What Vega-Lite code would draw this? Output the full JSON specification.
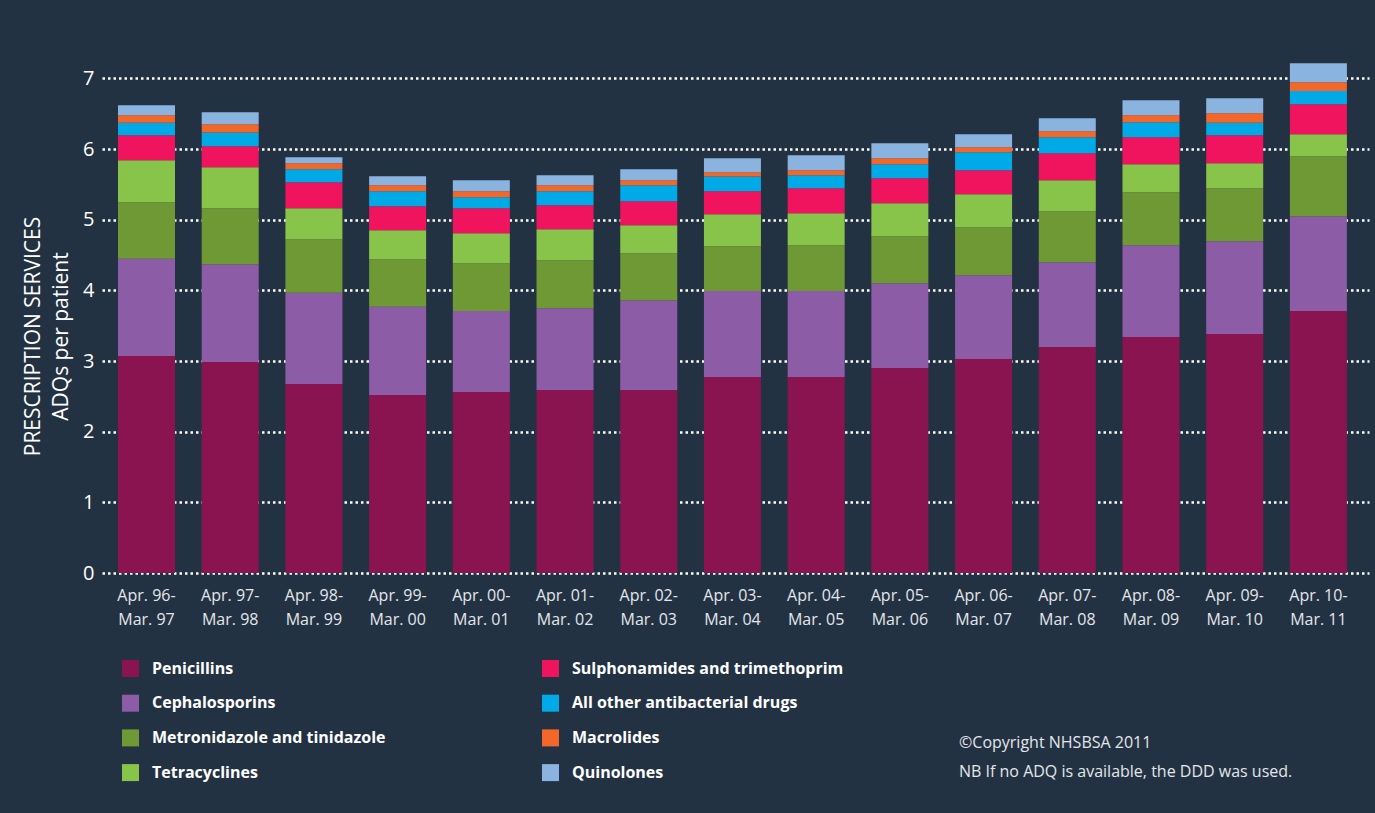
{
  "$schema": "https://vega.github.io/schema/vega-lite/v6.json",
  "autosize": {"type": "none"},
  "width": 1267,
  "height": 530,
  "padding": {"left": 102, "top": 43, "right": 6, "bottom": 240},
  "background": "#233243",
  "datasets": {
    "drugs": [
      {"drug": "pen", "name": "Penicillins", "ord": 1},
      {"drug": "ceph", "name": "Cephalosporins", "ord": 2},
      {"drug": "metro", "name": "Metronidazole and tinidazole", "ord": 3},
      {"drug": "tet", "name": "Tetracyclines", "ord": 4},
      {"drug": "sulph", "name": "Sulphonamides and trimethoprim", "ord": 5},
      {"drug": "other", "name": "All other antibacterial drugs", "ord": 6},
      {"drug": "mac", "name": "Macrolides", "ord": 7},
      {"drug": "quin", "name": "Quinolones", "ord": 8}
    ],
    "adq": [
      {"period": "Apr. 96-Mar. 97", "drug": "pen", "adq": 3.07},
      {"period": "Apr. 96-Mar. 97", "drug": "ceph", "adq": 1.376},
      {"period": "Apr. 96-Mar. 97", "drug": "metro", "adq": 0.801},
      {"period": "Apr. 96-Mar. 97", "drug": "tet", "adq": 0.594},
      {"period": "Apr. 96-Mar. 97", "drug": "sulph", "adq": 0.353},
      {"period": "Apr. 96-Mar. 97", "drug": "other", "adq": 0.179},
      {"period": "Apr. 96-Mar. 97", "drug": "mac", "adq": 0.104},
      {"period": "Apr. 96-Mar. 97", "drug": "quin", "adq": 0.141},
      {"period": "Apr. 97-Mar. 98", "drug": "pen", "adq": 2.985},
      {"period": "Apr. 97-Mar. 98", "drug": "ceph", "adq": 1.385},
      {"period": "Apr. 97-Mar. 98", "drug": "metro", "adq": 0.792},
      {"period": "Apr. 97-Mar. 98", "drug": "tet", "adq": 0.58},
      {"period": "Apr. 97-Mar. 98", "drug": "sulph", "adq": 0.297},
      {"period": "Apr. 97-Mar. 98", "drug": "other", "adq": 0.193},
      {"period": "Apr. 97-Mar. 98", "drug": "mac", "adq": 0.118},
      {"period": "Apr. 97-Mar. 98", "drug": "quin", "adq": 0.169},
      {"period": "Apr. 98-Mar. 99", "drug": "pen", "adq": 2.674},
      {"period": "Apr. 98-Mar. 99", "drug": "ceph", "adq": 1.291},
      {"period": "Apr. 98-Mar. 99", "drug": "metro", "adq": 0.759},
      {"period": "Apr. 98-Mar. 99", "drug": "tet", "adq": 0.438},
      {"period": "Apr. 98-Mar. 99", "drug": "sulph", "adq": 0.368},
      {"period": "Apr. 98-Mar. 99", "drug": "other", "adq": 0.183},
      {"period": "Apr. 98-Mar. 99", "drug": "mac", "adq": 0.085},
      {"period": "Apr. 98-Mar. 99", "drug": "quin", "adq": 0.085},
      {"period": "Apr. 99-Mar. 00", "drug": "pen", "adq": 2.518},
      {"period": "Apr. 99-Mar. 00", "drug": "ceph", "adq": 1.249},
      {"period": "Apr. 99-Mar. 00", "drug": "metro", "adq": 0.674},
      {"period": "Apr. 99-Mar. 00", "drug": "tet", "adq": 0.41},
      {"period": "Apr. 99-Mar. 00", "drug": "sulph", "adq": 0.339},
      {"period": "Apr. 99-Mar. 00", "drug": "other", "adq": 0.212},
      {"period": "Apr. 99-Mar. 00", "drug": "mac", "adq": 0.085},
      {"period": "Apr. 99-Mar. 00", "drug": "quin", "adq": 0.128},
      {"period": "Apr. 00-Mar. 01", "drug": "pen", "adq": 2.561},
      {"period": "Apr. 00-Mar. 01", "drug": "ceph", "adq": 1.145},
      {"period": "Apr. 00-Mar. 01", "drug": "metro", "adq": 0.679},
      {"period": "Apr. 00-Mar. 01", "drug": "tet", "adq": 0.424},
      {"period": "Apr. 00-Mar. 01", "drug": "sulph", "adq": 0.353},
      {"period": "Apr. 00-Mar. 01", "drug": "other", "adq": 0.156},
      {"period": "Apr. 00-Mar. 01", "drug": "mac", "adq": 0.084},
      {"period": "Apr. 00-Mar. 01", "drug": "quin", "adq": 0.156},
      {"period": "Apr. 01-Mar. 02", "drug": "pen", "adq": 2.589},
      {"period": "Apr. 01-Mar. 02", "drug": "ceph", "adq": 1.159},
      {"period": "Apr. 01-Mar. 02", "drug": "metro", "adq": 0.679},
      {"period": "Apr. 01-Mar. 02", "drug": "tet", "adq": 0.438},
      {"period": "Apr. 01-Mar. 02", "drug": "sulph", "adq": 0.339},
      {"period": "Apr. 01-Mar. 02", "drug": "other", "adq": 0.198},
      {"period": "Apr. 01-Mar. 02", "drug": "mac", "adq": 0.085},
      {"period": "Apr. 01-Mar. 02", "drug": "quin", "adq": 0.142},
      {"period": "Apr. 02-Mar. 03", "drug": "pen", "adq": 2.589},
      {"period": "Apr. 02-Mar. 03", "drug": "ceph", "adq": 1.272},
      {"period": "Apr. 02-Mar. 03", "drug": "metro", "adq": 0.665},
      {"period": "Apr. 02-Mar. 03", "drug": "tet", "adq": 0.396},
      {"period": "Apr. 02-Mar. 03", "drug": "sulph", "adq": 0.339},
      {"period": "Apr. 02-Mar. 03", "drug": "other", "adq": 0.226},
      {"period": "Apr. 02-Mar. 03", "drug": "mac", "adq": 0.071},
      {"period": "Apr. 02-Mar. 03", "drug": "quin", "adq": 0.155},
      {"period": "Apr. 03-Mar. 04", "drug": "pen", "adq": 2.773},
      {"period": "Apr. 03-Mar. 04", "drug": "ceph", "adq": 1.216},
      {"period": "Apr. 03-Mar. 04", "drug": "metro", "adq": 0.636},
      {"period": "Apr. 03-Mar. 04", "drug": "tet", "adq": 0.452},
      {"period": "Apr. 03-Mar. 04", "drug": "sulph", "adq": 0.325},
      {"period": "Apr. 03-Mar. 04", "drug": "other", "adq": 0.208},
      {"period": "Apr. 03-Mar. 04", "drug": "mac", "adq": 0.061},
      {"period": "Apr. 03-Mar. 04", "drug": "quin", "adq": 0.198},
      {"period": "Apr. 04-Mar. 05", "drug": "pen", "adq": 2.773},
      {"period": "Apr. 04-Mar. 05", "drug": "ceph", "adq": 1.216},
      {"period": "Apr. 04-Mar. 05", "drug": "metro", "adq": 0.65},
      {"period": "Apr. 04-Mar. 05", "drug": "tet", "adq": 0.452},
      {"period": "Apr. 04-Mar. 05", "drug": "sulph", "adq": 0.354},
      {"period": "Apr. 04-Mar. 05", "drug": "other", "adq": 0.184},
      {"period": "Apr. 04-Mar. 05", "drug": "mac", "adq": 0.07},
      {"period": "Apr. 04-Mar. 05", "drug": "quin", "adq": 0.212},
      {"period": "Apr. 05-Mar. 06", "drug": "pen", "adq": 2.9},
      {"period": "Apr. 05-Mar. 06", "drug": "ceph", "adq": 1.202},
      {"period": "Apr. 05-Mar. 06", "drug": "metro", "adq": 0.664},
      {"period": "Apr. 05-Mar. 06", "drug": "tet", "adq": 0.467},
      {"period": "Apr. 05-Mar. 06", "drug": "sulph", "adq": 0.353},
      {"period": "Apr. 05-Mar. 06", "drug": "other", "adq": 0.198},
      {"period": "Apr. 05-Mar. 06", "drug": "mac", "adq": 0.085},
      {"period": "Apr. 05-Mar. 06", "drug": "quin", "adq": 0.212},
      {"period": "Apr. 06-Mar. 07", "drug": "pen", "adq": 3.027},
      {"period": "Apr. 06-Mar. 07", "drug": "ceph", "adq": 1.188},
      {"period": "Apr. 06-Mar. 07", "drug": "metro", "adq": 0.678},
      {"period": "Apr. 06-Mar. 07", "drug": "tet", "adq": 0.467},
      {"period": "Apr. 06-Mar. 07", "drug": "sulph", "adq": 0.339},
      {"period": "Apr. 06-Mar. 07", "drug": "other", "adq": 0.255},
      {"period": "Apr. 06-Mar. 07", "drug": "mac", "adq": 0.071},
      {"period": "Apr. 06-Mar. 07", "drug": "quin", "adq": 0.183},
      {"period": "Apr. 07-Mar. 08", "drug": "pen", "adq": 3.197},
      {"period": "Apr. 07-Mar. 08", "drug": "ceph", "adq": 1.202},
      {"period": "Apr. 07-Mar. 08", "drug": "metro", "adq": 0.721},
      {"period": "Apr. 07-Mar. 08", "drug": "tet", "adq": 0.438},
      {"period": "Apr. 07-Mar. 08", "drug": "sulph", "adq": 0.382},
      {"period": "Apr. 07-Mar. 08", "drug": "other", "adq": 0.226},
      {"period": "Apr. 07-Mar. 08", "drug": "mac", "adq": 0.085},
      {"period": "Apr. 07-Mar. 08", "drug": "quin", "adq": 0.183},
      {"period": "Apr. 08-Mar. 09", "drug": "pen", "adq": 3.338},
      {"period": "Apr. 08-Mar. 09", "drug": "ceph", "adq": 1.301},
      {"period": "Apr. 08-Mar. 09", "drug": "metro", "adq": 0.749},
      {"period": "Apr. 08-Mar. 09", "drug": "tet", "adq": 0.396},
      {"period": "Apr. 08-Mar. 09", "drug": "sulph", "adq": 0.382},
      {"period": "Apr. 08-Mar. 09", "drug": "other", "adq": 0.212},
      {"period": "Apr. 08-Mar. 09", "drug": "mac", "adq": 0.099},
      {"period": "Apr. 08-Mar. 09", "drug": "quin", "adq": 0.212},
      {"period": "Apr. 09-Mar. 10", "drug": "pen", "adq": 3.381},
      {"period": "Apr. 09-Mar. 10", "drug": "ceph", "adq": 1.315},
      {"period": "Apr. 09-Mar. 10", "drug": "metro", "adq": 0.749},
      {"period": "Apr. 09-Mar. 10", "drug": "tet", "adq": 0.353},
      {"period": "Apr. 09-Mar. 10", "drug": "sulph", "adq": 0.396},
      {"period": "Apr. 09-Mar. 10", "drug": "other", "adq": 0.179},
      {"period": "Apr. 09-Mar. 10", "drug": "mac", "adq": 0.132},
      {"period": "Apr. 09-Mar. 10", "drug": "quin", "adq": 0.212},
      {"period": "Apr. 10-Mar. 11", "drug": "pen", "adq": 3.706},
      {"period": "Apr. 10-Mar. 11", "drug": "ceph", "adq": 1.343},
      {"period": "Apr. 10-Mar. 11", "drug": "metro", "adq": 0.848},
      {"period": "Apr. 10-Mar. 11", "drug": "tet", "adq": 0.311},
      {"period": "Apr. 10-Mar. 11", "drug": "sulph", "adq": 0.424},
      {"period": "Apr. 10-Mar. 11", "drug": "other", "adq": 0.189},
      {"period": "Apr. 10-Mar. 11", "drug": "mac", "adq": 0.122},
      {"period": "Apr. 10-Mar. 11", "drug": "quin", "adq": 0.269}
    ]
  },
  "data": {"name": "adq"},
  "transform": [
    {"lookup": "drug", "from": {"data": {"name": "drugs"}, "key": "drug", "fields": ["name", "ord"]}}
  ],
  "title": {
    "text": ["©Copyright NHSBSA 2011", "NB If no ADQ is available, the DDD was used."],
    "orient": "bottom",
    "anchor": "start",
    "frame": "group",
    "align": "left",
    "dx": 857,
    "offset": -47,
    "font": "Open Sans",
    "fontSize": 16,
    "fontWeight": "normal",
    "color": "#e3e6ea",
    "lineHeight": 29
  },
  "mark": {"type": "bar"},
  "encoding": {
    "x": {
      "field": "period",
      "type": "nominal",
      "sort": null,
      "scale": {"paddingInner": 0.319, "paddingOuter": 0.2275, "align": 0.42},
      "axis": {
        "title": null,
        "labelAngle": 0,
        "labelExpr": "[slice(datum.label, 0, 8), slice(datum.label, 8)]",
        "labelFont": "Open Sans",
        "labelFontSize": 16,
        "labelColor": "#e3e6ea",
        "labelLineHeight": 24,
        "labelPadding": 14,
        "ticks": false,
        "domain": false,
        "grid": false
      }
    },
    "y": {
      "field": "adq",
      "type": "quantitative",
      "stack": "zero",
      "scale": {"domain": [0, 7.5], "nice": false},
      "axis": {
        "title": ["PRESCRIPTION SERVICES", "ADQs per patient"],
        "values": [0, 1, 2, 3, 4, 5, 6, 7],
        "labelFont": "Open Sans",
        "labelFontSize": 20,
        "labelColor": "#ffffff",
        "labelPadding": 8,
        "ticks": false,
        "domain": false,
        "grid": true,
        "gridColor": "#ffffff",
        "gridDash": [2.5, 3],
        "gridWidth": 2.5,
        "titleFont": "Open Sans",
        "titleFontSize": 21,
        "titleFontWeight": "normal",
        "titleColor": "#ffffff",
        "titleLineHeight": 28,
        "titlePadding": 11,
        "titleY": 293
      }
    },
    "color": {
      "field": "name",
      "type": "nominal",
      "scale": {
        "domain": ["Penicillins", "Cephalosporins", "Metronidazole and tinidazole", "Tetracyclines", "Sulphonamides and trimethoprim", "All other antibacterial drugs", "Macrolides", "Quinolones"],
        "range": ["#8a1450", "#8c5ca6", "#6f9934", "#89c44a", "#f0145f", "#00aae6", "#f3672a", "#8ab3e0"]
      },
      "legend": {
        "orient": "none",
        "legendX": 20,
        "legendY": 617,
        "title": null,
        "columns": 2,
        "columnPadding": 156,
        "rowPadding": 17.7,
        "padding": 0,
        "symbolType": "square",
        "symbolSize": 289,
        "symbolStrokeWidth": 0,
        "symbolOpacity": 1,
        "labelFont": "Open Sans",
        "labelFontSize": 16,
        "labelFontWeight": "bold",
        "labelColor": "#ffffff",
        "labelOffset": 13,
        "labelLimit": 400
      }
    },
    "order": {"field": "ord", "type": "quantitative"}
  },
  "config": {"view": {"stroke": null}, "font": "Open Sans"}
}
